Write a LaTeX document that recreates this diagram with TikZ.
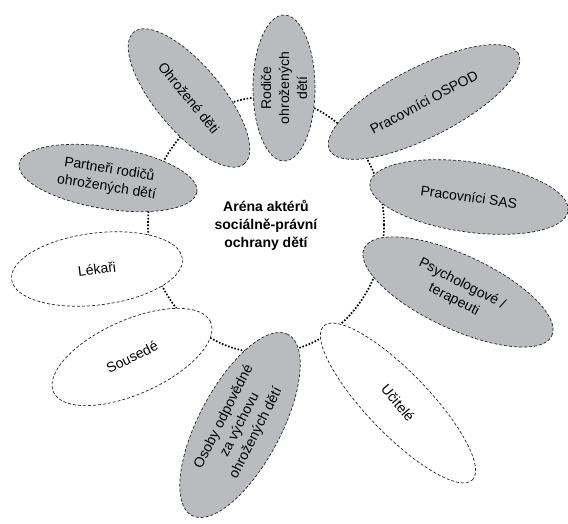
\documentclass[tikz,border=0pt]{standalone}
\usepackage{fontspec}
\setmainfont{Liberation Sans}
\usetikzlibrary{shapes.geometric}
\definecolor{petalgrey}{RGB}{186,187,190}

\begin{document}
\begin{tikzpicture}
[x=1pt,y=1pt,font=\fontsize{14}{18}\selectfont,
 arena/.style={ellipse,draw,line width=1.7pt,dash pattern=on 1.6pt off 1.7pt,inner sep=0pt,align=center,font=\fontsize{14}{18}\selectfont\bfseries},
 petal/.style={ellipse,draw=black!85,line width=0.7pt,densely dashed,inner sep=0pt},
 shaded/.style={fill=petalgrey},
 plain/.style={fill=white},
 every label/.style={align=center,inner sep=0pt}]
\useasboundingbox (0,0) rectangle (568,523);
\node[arena,minimum width=236pt,minimum height=256pt] (centre) at (266,298) {Aréna aktérů\\sociálně-právní\\ochrany dětí};
\node[petal,shaded,rotate=90,minimum width=146pt,minimum height=62pt,label={[rotate=90]center:{Rodiče\\ohrožených\\dětí}}] (rodice) at (284,435) {};
\node[petal,shaded,rotate=-50,minimum width=172pt,minimum height=66pt,label={[rotate=-51]center:{Ohrožené děti}}] (ohrozene) at (189,425) {};
\node[petal,shaded,rotate=-9,minimum width=180pt,minimum height=62pt,label={[rotate=-9]center:{Partneři rodičů\\ohrožených dětí}}] (partneri) at (108,345) {};
\node[petal,plain,rotate=7,minimum width=172pt,minimum height=72pt,label={[rotate=7]center:{Lékaři}}] (lekari) at (97,254) {};
\node[petal,plain,rotate=24,minimum width=172pt,minimum height=74pt,label={[rotate=26]center:{Sousedé}}] (sousede) at (132,166) {};
\node[petal,shaded,rotate=62,minimum width=205pt,minimum height=82pt,label={[rotate=63]center:{Osoby odpovědné\\za výchovu\\ohrožených dětí}}] (osoby) at (240,98) {};
\node[petal,plain,rotate=-46,minimum width=214pt,minimum height=62pt,label={[rotate=-50]center:{Učitelé}}] (ucitele) at (398,120) {};
\node[petal,shaded,rotate=-25,minimum width=207pt,minimum height=74pt,label={[rotate=-27]center:{Psychologové /\\terapeuti}}] (psych) at (458,231) {};
\node[petal,shaded,rotate=-8,minimum width=200pt,minimum height=70pt,label={[rotate=-8]center:{Pracovníci SAS}}] (sas) at (469,326) {};
\node[petal,shaded,rotate=27,minimum width=212pt,minimum height=70pt,label={[rotate=28]center:{Pracovníci OSPOD}}] (ospod) at (424,421) {};
\end{tikzpicture}
\end{document}
